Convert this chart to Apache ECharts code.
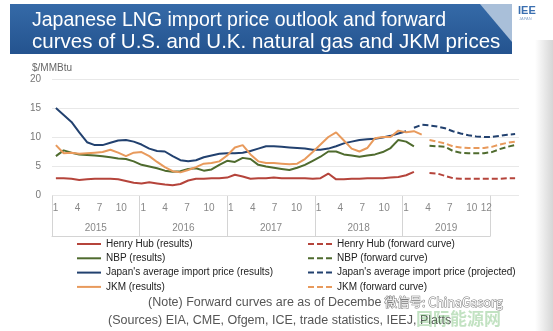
<!DOCTYPE html>
<html><head><meta charset="utf-8">
<script src="https://cdn.jsdelivr.net/npm/echarts@6/dist/echarts.min.js"></script>
<style>html,body{margin:0;padding:0;background:#fff}#c{width:553px;height:331px}</style>
</head><body><div id="c"></div>
<script>
const years = ['2015','2016','2017','2018','2019'];
const shownMonths = [1,4,7,10];
const yTicks = [0,5,10,15,20];
const n = null;
// monthly values Jan 2015 .. Dec 2019 (60 months)
const henryHub = [2.9,2.9,2.8,2.6,2.7,2.8,2.8,2.8,2.7,2.4,2.1,2.0,
  2.2,2.0,1.8,1.7,1.9,2.5,2.8,2.8,2.9,2.9,3.0,3.5,
  3.2,2.8,2.9,2.9,3.0,2.9,2.9,2.9,2.9,2.8,2.9,3.7,
  2.7,2.7,2.8,2.8,2.9,2.9,2.9,3.0,3.1,3.4,4.0,n,
  n,n,n,n,n,n,n,n,n,n,n,n];
const henryHubFwd = [n,n,n,n,n,n,n,n,n,n,n,n, n,n,n,n,n,n,n,n,n,n,n,n,
  n,n,n,n,n,n,n,n,n,n,n,n, n,n,n,n,n,n,n,n,n,n,n,n,
  3.8,3.7,3.3,2.9,2.8,2.8,2.8,2.8,2.8,2.8,2.9,2.9];
const nbp = [6.7,7.7,7.3,7.0,6.9,6.8,6.7,6.5,6.3,6.2,5.8,5.2,
  4.9,4.6,4.2,4.0,4.1,4.5,4.6,4.2,4.4,5.2,5.9,5.7,
  6.4,6.2,5.2,4.9,4.7,4.5,4.3,4.7,5.2,5.9,6.6,7.5,
  7.5,7.0,6.8,6.6,6.8,7.0,7.4,8.1,9.5,9.2,8.4,n,
  n,n,n,n,n,n,n,n,n,n,n,n];
const nbpFwd = [n,n,n,n,n,n,n,n,n,n,n,n, n,n,n,n,n,n,n,n,n,n,n,n,
  n,n,n,n,n,n,n,n,n,n,n,n, n,n,n,n,n,n,n,n,n,n,n,n,
  8.5,8.4,8.3,7.6,7.3,7.2,7.2,7.2,7.4,7.9,8.3,8.6];
const japanImport = [15.0,13.8,12.6,10.8,9.1,8.6,8.6,9.0,9.4,9.5,9.2,8.7,
  8.0,7.6,7.5,6.7,6.0,5.8,6.0,6.5,6.8,7.1,7.2,7.2,
  7.3,7.6,8.0,8.4,8.4,8.3,8.2,8.1,8.0,7.8,7.8,8.0,
  8.4,8.9,9.2,9.5,9.6,9.7,9.9,10.2,10.6,11.0,n,n,
  n,n,n,n,n,n,n,n,n,n,n,n];
const japanProj = [n,n,n,n,n,n,n,n,n,n,n,n, n,n,n,n,n,n,n,n,n,n,n,n,
  n,n,n,n,n,n,n,n,n,n,n,n, n,n,n,n,n,n,n,n,n,n,11.6,12.1,
  12.0,11.8,11.5,11.0,10.6,10.3,10.1,10.0,10.0,10.2,10.4,10.5];
const jkm = [8.6,7.2,7.3,7.1,7.2,7.3,7.4,7.8,7.3,6.7,7.3,7.4,
  6.7,5.7,4.8,4.1,3.9,4.3,4.8,5.4,5.5,5.8,6.8,8.2,
  8.6,7.0,5.8,5.5,5.5,5.4,5.3,5.4,6.2,7.4,8.7,10.0,
  10.8,9.4,8.0,7.5,8.1,9.8,10.0,10.0,11.1,10.8,11.0,10.4,
  n,n,n,n,n,n,n,n,n,n,n,n];
const jkmFwd = [n,n,n,n,n,n,n,n,n,n,n,n, n,n,n,n,n,n,n,n,n,n,n,n,
  n,n,n,n,n,n,n,n,n,n,n,n, n,n,n,n,n,n,n,n,n,n,n,n,
  9.5,9.2,8.9,8.4,8.2,8.1,8.1,8.1,8.3,8.7,9.0,9.2];

const cats = [];
years.forEach(y => { for (let m = 1; m <= 12; m++) cats.push(y + '-' + m); });

const C = {red:'#b5443b', green:'#4f6b2e', blue:'#22416f', orange:'#e89a5c'};
function ser(name, data, color, dashed) {
  return {name, type:'line', data, xAxisIndex:0, yAxisIndex:0, symbol:'none',
    connectNulls:false, lineStyle:{color, width:2, type: dashed ? [6,3] : 'solid'},
    itemStyle:{color}, emphasis:{disabled:true}};
}
const chart = echarts.init(document.getElementById('c'), null, {renderer:'canvas'});
const axisGray = '#d4d4d4';
const legendCommon = {orient:'vertical', top:239, padding:0, itemWidth:24, itemHeight:10, itemGap:4.3,
  itemStyle:{opacity:0}, textStyle:{fontSize:10, color:'#222', fontFamily:'Liberation Sans'}, selectedMode:false};
chart.setOption({
  animation:false,
  grid:[
    {left:52, right:34, top:79, bottom:136},
    {left:52, right:63, top:196, height:40}
  ],
  xAxis:[
    {type:'category', gridIndex:0, data:cats, boundaryGap:true, show:false},
    {type:'category', gridIndex:1, data:cats, boundaryGap:true, position:'top',
      axisLine:{show:true, lineStyle:{color:axisGray}}, axisTick:{show:false},
      splitLine:{show:true, interval:(i)=> i % 12 === 0, lineStyle:{color:axisGray}},
      axisLabel:{inside:true, margin:7, interval:0, color:'#888', fontSize:10,
        fontFamily:'Liberation Sans',
        formatter:(v)=>{const p=v.split('-'); const m=+p[1];
          if (shownMonths.indexOf(m)>=0) return String(m);
          if (p[0]===years[years.length-1] && m===12) return '12'; return '';}}},
    {type:'category', gridIndex:1, data:years, position:'top', axisLine:{show:false},
      axisTick:{show:false}, axisLabel:{inside:true, margin:27, color:'#888', fontSize:10,
        fontFamily:'Liberation Sans'}}
  ],
  yAxis:[
    {type:'value', gridIndex:0, min:yTicks[0], max:yTicks[yTicks.length-1], interval:5,
      name:'$/MMBtu', nameLocation:'end', nameGap:6,
      nameTextStyle:{color:'#666', fontSize:10, align:'center', fontFamily:'Liberation Sans'},
      axisLine:{show:false}, axisTick:{show:false},
      axisLabel:{color:'#777', fontSize:10, margin:11, fontFamily:'Liberation Sans'},
      splitLine:{lineStyle:{color:'#e8e8e8'}}},
    {type:'value', gridIndex:1, position:'left', axisLine:{show:true, lineStyle:{color:axisGray}},
      axisLabel:{show:false}, axisTick:{show:false}, splitLine:{show:false}},
    {type:'value', gridIndex:1, position:'right', axisLine:{show:true, lineStyle:{color:axisGray}},
      axisLabel:{show:false}, axisTick:{show:false}, splitLine:{show:false}}
  ],
  legend:[
    Object.assign({left:76, data:['Henry Hub (results)','NBP (results)',"Japan's average import price (results)",'JKM (results)']}, legendCommon),
    Object.assign({left:307, data:['Henry Hub (forward curve)','NBP (forward curve)',"Japan's average import price (projected)",'JKM (forward curve)']}, legendCommon)
  ],
  series:[
    ser('Henry Hub (results)', henryHub, C.red, false),
    ser('NBP (results)', nbp, C.green, false),
    ser("Japan's average import price (results)", japanImport, C.blue, false),
    ser('JKM (results)', jkm, C.orange, false),
    ser('Henry Hub (forward curve)', henryHubFwd, C.red, true),
    ser('NBP (forward curve)', nbpFwd, C.green, true),
    ser("Japan's average import price (projected)", japanProj, C.blue, true),
    ser('JKM (forward curve)', jkmFwd, C.orange, true)
  ],
  graphic:[
    {type:'rect', shape:{x:535, y:40, width:18, height:291}, silent:true,
      style:{fill:new echarts.graphic.LinearGradient(0,0,1,0,[{offset:0,color:'#ffffff'},{offset:1,color:'#d6d6d6'}])}},
    {type:'rect', shape:{x:10, y:4, width:502, height:50}, silent:true,
      style:{fill:new echarts.graphic.LinearGradient(0,0,0,1,[{offset:0,color:'#356aa8'},{offset:1,color:'#24538f'}])}},
    {type:'polygon', shape:{points:[[480,4],[512,4],[512,42]]}, silent:true,
      style:{fill:'#a9bfd9'}},
    {type:'text', left:32, top:11, silent:true,
      style:{text:'Japanese LNG import price outlook and forward', fill:'#ffffff', fontSize:19.5, fontFamily:'Liberation Sans'}},
    {type:'text', left:32, top:32, silent:true,
      style:{text:'curves of U.S. and U.K. natural gas and JKM prices', fill:'#ffffff', fontSize:20.5, fontFamily:'Liberation Sans'}},
    {type:'text', left:518, top:5, silent:true,
      style:{text:'IEE', fill:'#3a6fb0', fontSize:11, fontWeight:'bold', fontFamily:'Liberation Sans'}},
    {type:'text', left:519, top:17, silent:true,
      style:{text:'JAPAN', fill:'#8aa8cc', fontSize:4, fontFamily:'Liberation Sans'}},
    {type:'text', left:148, top:296, silent:true,
      style:{text:'(Note) Forward curves are as of Decembe', fill:'#555', fontSize:12.5, fontFamily:'Liberation Sans'}},
    {type:'text', left:108, top:314, silent:true,
      style:{text:'(Sources) EIA, CME, Ofgem, ICE, trade statistics, IEEJ, Platts', fill:'#555', fontSize:12.5, fontFamily:'Liberation Sans'}},
    {type:'text', left:416, top:310, silent:true,
      style:{text:'国际能源网', fill:'rgba(120,190,120,0.45)', fontSize:17, fontWeight:'bold', fontFamily:'Noto Sans CJK SC'}},
    {type:'text', left:384, top:295, silent:true,
      style:{text:'微信号: ChinaGasorg', fill:'#ffffff', stroke:'#777', lineWidth:1, fontSize:12.5, fontFamily:'Noto Sans CJK SC'}}
  ]
});
</script></body></html>
